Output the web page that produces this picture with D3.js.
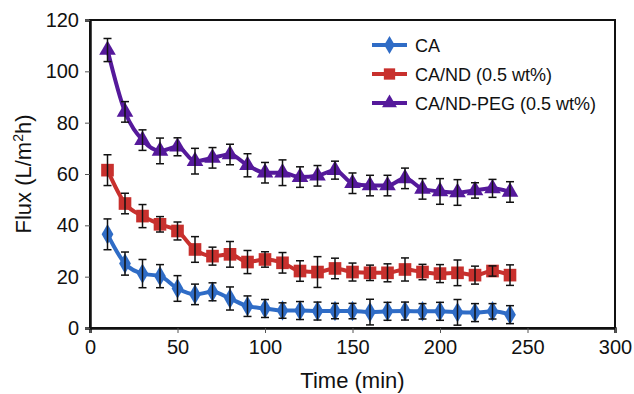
<!DOCTYPE html>
<html>
<head>
<meta charset="utf-8">
<script src="https://cdn.jsdelivr.net/npm/d3@7"></script>
<style>
  body { margin: 0; background: #fff; }
  svg { font-family: 'Liberation Sans', Arial, sans-serif; }
</style>
</head>
<body>
<div id="chart"></div>
<script>
const times = [10, 20, 30, 40, 50, 60, 70, 80, 90, 100, 110, 120, 130, 140, 150, 160, 170, 180, 190, 200, 210, 220, 230, 240]

const caFlux = [36.5, 25.1, 21.2, 20.2, 15.4, 13.1, 14.1, 11.5, 8.5, 7.6, 6.8, 6.8, 6.6, 6.6, 6.6, 6.2, 6.5, 6.6, 6.5, 6.5, 6.1, 6.0, 6.5, 5.2]
const caErr = [6, 4.5, 5.5, 4.5, 5, 4, 3.5, 4.5, 4, 3.5, 3, 3.5, 3.5, 3, 3, 5, 3.5, 3.5, 3, 3.5, 5, 3.5, 3, 3.5]

const ndFlux = [61.5, 48.5, 43.6, 40.4, 37.8, 30.6, 28, 28.7, 25.7, 26.7, 25.4, 22.2, 21.8, 23.2, 21.8, 21.5, 21.5, 22.8, 21.8, 21.2, 21.5, 20.6, 22.2, 20.6]
const ndErr = [6, 4, 4.5, 3, 3.5, 5, 3.5, 5, 4.5, 3, 4, 4, 6, 4, 3.5, 3, 3.5, 4.5, 3, 3.5, 5, 3.5, 2, 4]

const pegFlux = [108.3, 84.2, 73.2, 69, 70.6, 65, 66.3, 67.6, 63.4, 60.5, 60.5, 58.8, 59.3, 61.5, 56.4, 55.5, 55.5, 58.3, 54.2, 53.2, 52.8, 53.6, 54.4, 53]
const pegErr = [4.5, 4, 4, 5, 3.5, 5, 4, 4, 4.5, 4, 5, 4, 4, 3.5, 4, 4, 4, 4, 4, 5, 5, 3, 3.5, 4]

const seriesNames = ['CA', 'CA/ND (0.5 wt%)', 'CA/ND-PEG (0.5 wt%)']
const xTicks = [0, 50, 100, 150, 200, 250, 300]
const yTicks = [0, 20, 40, 60, 80, 100, 120]

const WIDTH = 634
const HEIGHT = 394
const margin = { left: 90, right: 19, top: 20, bottom: 66 }

const series = [
  { name: seriesNames[0], values: caFlux, errs: caErr, color: '#2f6cc6', shape: d3.symbolDiamond, size: 120 },
  { name: seriesNames[1], values: ndFlux, errs: ndErr, color: '#c8302d', shape: d3.symbolSquare, size: 160 },
  { name: seriesNames[2], values: pegFlux, errs: pegErr, color: '#55199b', shape: d3.symbolTriangle, size: 120 },
]

const svg = d3.select('#chart').append('svg')
  .attr('width', WIDTH)
  .attr('height', HEIGHT)

const x = d3.scaleLinear().domain([0, 300]).range([margin.left, WIDTH - margin.right])
const y = d3.scaleLinear().domain([0, 120]).range([HEIGHT - margin.bottom, margin.top])

// frame
svg.append('rect')
  .attr('x', x(0)).attr('y', y(120))
  .attr('width', x(300) - x(0)).attr('height', y(0) - y(120))
  .attr('fill', 'none').attr('stroke', '#111').attr('stroke-width', 2)

// axes
const xAxis = svg.append('g')
  .attr('transform', `translate(0,${y(0)})`)
  .call(d3.axisBottom(x).tickValues(xTicks).tickSize(5).tickPadding(7))
const yAxis = svg.append('g')
  .attr('transform', `translate(${x(0)},0)`)
  .call(d3.axisLeft(y).tickValues(yTicks).tickSize(5).tickPadding(6))

;[xAxis, yAxis].forEach((ax) => {
  ax.select('.domain').attr('stroke', '#111').attr('stroke-width', 2.5)
  ax.selectAll('.tick line').attr('stroke', '#555').attr('stroke-width', 1)
  ax.selectAll('.tick text').attr('fill', '#111').attr('font-size', 20).attr('font-family', 'Liberation Sans, Arial, sans-serif')
})

// axis titles
svg.append('text')
  .attr('x', (x(0) + x(300)) / 2).attr('y', 388)
  .attr('text-anchor', 'middle').attr('font-size', 22).attr('fill', '#111')
  .text('Time (min)')

const yTitle = svg.append('text')
  .attr('transform', `translate(31,${(y(0) + y(120)) / 2}) rotate(-90)`)
  .attr('text-anchor', 'middle').attr('font-size', 22).attr('fill', '#111')
yTitle.append('tspan').text('Flux (L/m')
yTitle.append('tspan').attr('font-size', 14).attr('dy', -8).text('2')
yTitle.append('tspan').attr('dy', 8).text('h)')

const line = d3.line()
  .x((d, i) => x(times[i]))
  .y((d) => y(d))
  .curve(d3.curveMonotoneX)

series.forEach((s) => {
  const g = svg.append('g')

  g.append('path')
    .datum(s.values)
    .attr('d', line)
    .attr('fill', 'none')
    .attr('stroke', s.color)
    .attr('stroke-width', 4)

  g.selectAll('path.pt')
    .data(s.values)
    .enter()
    .append('path')
    .attr('class', 'pt')
    .attr('d', d3.symbol().type(s.shape).size(s.size))
    .attr('transform', (d, i) => `translate(${x(times[i])},${y(d)})`)
    .attr('fill', s.color)

  // error bars
  const eb = g.selectAll('g.err')
    .data(s.values)
    .enter()
    .append('g')
    .attr('class', 'err')
    .attr('stroke', '#111')
    .attr('stroke-width', 1.5)
  eb.append('line')
    .attr('x1', (d, i) => x(times[i])).attr('x2', (d, i) => x(times[i]))
    .attr('y1', (d, i) => y(d + s.errs[i])).attr('y2', (d, i) => y(d - s.errs[i]))
  eb.append('line')
    .attr('x1', (d, i) => x(times[i]) - 4).attr('x2', (d, i) => x(times[i]) + 4)
    .attr('y1', (d, i) => y(d + s.errs[i])).attr('y2', (d, i) => y(d + s.errs[i]))
  eb.append('line')
    .attr('x1', (d, i) => x(times[i]) - 4).attr('x2', (d, i) => x(times[i]) + 4)
    .attr('y1', (d, i) => y(d - s.errs[i])).attr('y2', (d, i) => y(d - s.errs[i]))
})

// legend
const legend = svg.append('g').attr('transform', 'translate(372,45)')
series.forEach((s, i) => {
  const row = legend.append('g').attr('transform', `translate(0,${i * 29})`)
  row.append('line')
    .attr('x1', 0).attr('x2', 35).attr('y1', 0).attr('y2', 0)
    .attr('stroke', s.color).attr('stroke-width', 4)
  row.append('path')
    .attr('d', d3.symbol().type(s.shape).size(s.size * 0.8))
    .attr('transform', 'translate(17.5,0)')
    .attr('fill', s.color)
  row.append('text')
    .attr('x', 43).attr('y', 6.5)
    .attr('font-size', 18).attr('fill', '#111')
    .text(s.name)
})
</script>
</body>
</html>
